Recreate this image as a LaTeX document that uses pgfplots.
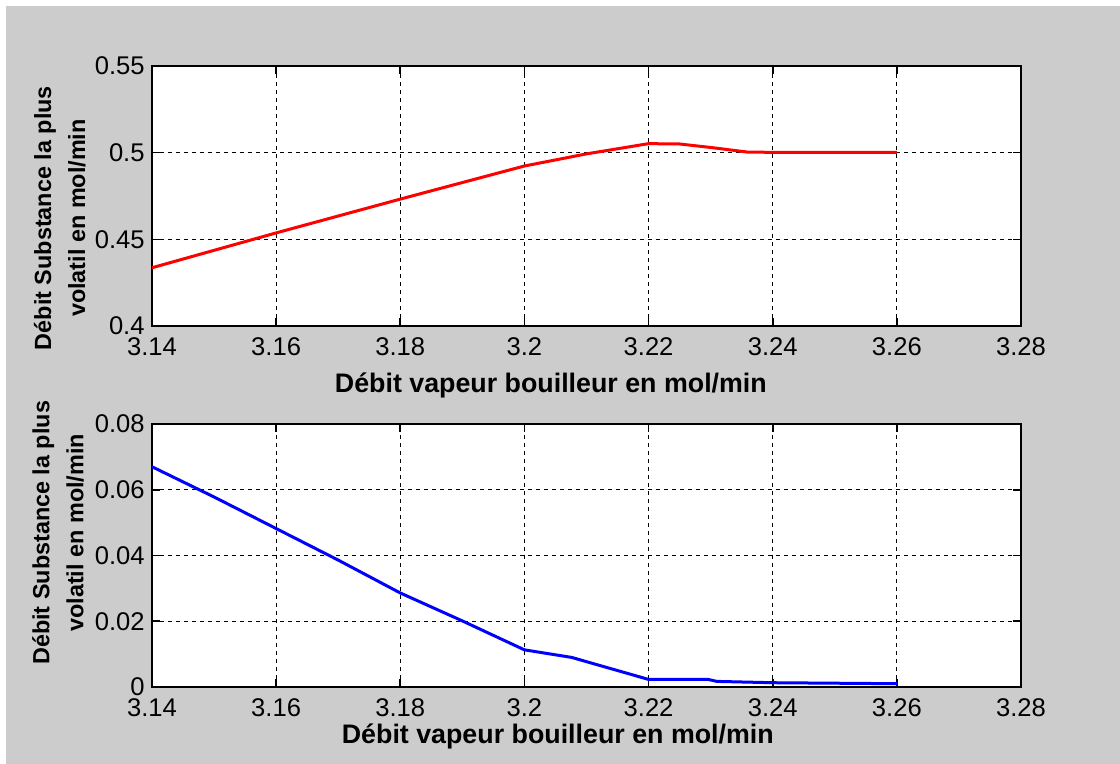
\documentclass[border=0pt]{standalone}
\usepackage{fontspec}
\setmainfont{Liberation Sans}
\usepackage{pgfplots}
\pgfplotsset{compat=1.18}
\definecolor{figbg}{RGB}{204,204,204}
\pgfplotsset{
  matlabax/.style={
    scale only axis, width=434.5pt, anchor=south west,
    xmin=3.14, xmax=3.28,
    xtick={3.14,3.16,3.18,3.2,3.22,3.24,3.26,3.28},
    axis background/.style={fill=white},
    grid=major,
    major grid style={black, line width=0.5pt, dash pattern=on 2pt off 2pt},
    axis line style={black, line width=0.8pt},
    tick align=inside, tick style={black, line width=0.8pt}, major tick length=4pt,
    /pgf/number format/assume math mode=true,
    /pgf/number format/fixed, /pgf/number format/precision=2,
    scaled ticks=false,
    ticklabel style={font=\fontsize{12.8}{15}\selectfont},
    xticklabel style={anchor=north, inner sep=0pt, yshift=-5.5pt},
    yticklabel style={anchor=east, inner sep=0pt, xshift=-3.5pt},
    xlabel style={font=\fontsize{13.4}{17}\selectfont\bfseries},
    ylabel style={font=\fontsize{11.7}{17}\selectfont\bfseries},
    xlabel={Débit vapeur bouilleur en mol/min},
    ylabel={Débit Substance la plus\\volatil en mol/min},
  }
}
\begin{document}
\begin{tikzpicture}
\fill[white] (0,0) rectangle (560pt,382pt);
\fill[figbg] (3pt,0) rectangle (560pt,379pt);
\useasboundingbox (0,0) rectangle (560pt,382pt);

% top axis
\begin{axis}[matlabax,
  at={(76pt,219pt)}, height=130pt,
  ymin=0.4, ymax=0.55, ytick={0.4,0.45,0.5,0.55},
  xlabel style={at={(axis description cs:0.459,-0.254)}, anchor=base},
  ylabel style={at={(axis description cs:-0.106,0.415)}, anchor=center, align=center},
]
\addplot[red, line width=1.5pt] coordinates {
(3.14,0.4336) (3.16,0.4537) (3.18,0.4732) (3.20,0.4923) (3.21,0.4993)
(3.22,0.5052) (3.225,0.5050) (3.23,0.5030) (3.236,0.5003) (3.24,0.5002) (3.26,0.5001)
};
\end{axis}

% bottom axis
\begin{axis}[matlabax,
  at={(76pt,38.5pt)}, height=131.5pt,
  ymin=0, ymax=0.08, ytick={0,0.02,0.04,0.06,0.08},
  xlabel style={at={(axis description cs:0.467,-0.213)}, anchor=base},
  ylabel style={at={(axis description cs:-0.108,0.586)}, anchor=center, align=center},
]
\addplot[blue, line width=1.5pt] coordinates {
(3.14,0.0670) (3.15,0.0578) (3.16,0.0482) (3.17,0.0386) (3.18,0.0286)
(3.19,0.0201) (3.20,0.0113) (3.2076,0.0090) (3.22,0.0023) (3.2296,0.0023)
(3.231,0.0017) (3.24,0.0013) (3.26,0.0010)
};
\end{axis}
\end{tikzpicture}
\end{document}
